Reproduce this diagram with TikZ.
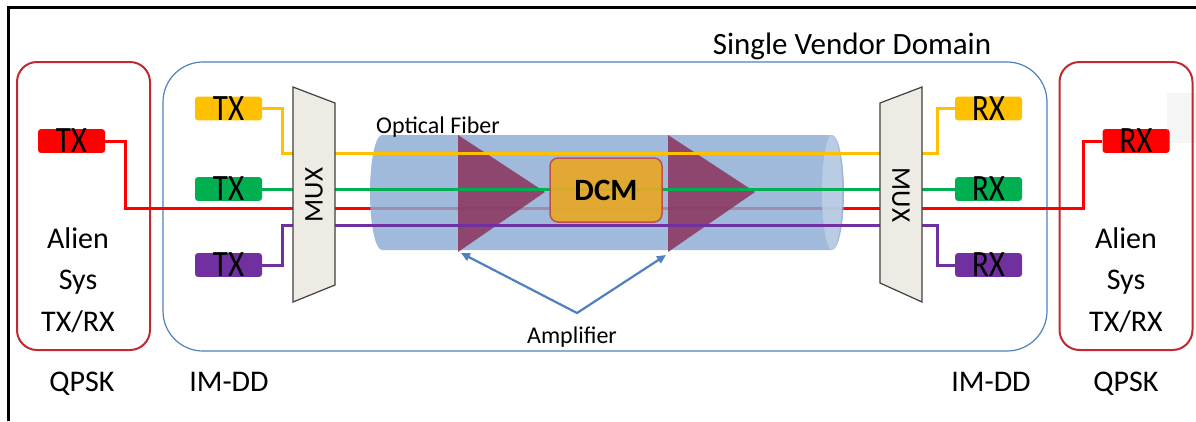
\documentclass[tikz,border=0pt]{standalone}
\usepackage{fontspec}
\setmainfont{Carlito}
\usetikzlibrary{arrows.meta}
\definecolor{chYellow}{RGB}{255,192,0}
\definecolor{chGreen}{RGB}{0,176,80}
\definecolor{chRed}{RGB}{255,0,0}
\definecolor{chPurple}{RGB}{112,48,160}
\definecolor{domBlue}{RGB}{79,129,189}
\definecolor{alienRed}{RGB}{192,40,50}
\definecolor{fiberBlue}{RGB}{140,172,212}
\definecolor{fiberCap}{RGB}{190,208,230}
\definecolor{ampCol}{RGB}{140,55,95}
\definecolor{dcmFill}{RGB}{230,168,40}
\definecolor{dcmEdge}{RGB}{192,80,77}
\definecolor{muxFill}{RGB}{237,235,227}
\definecolor{muxEdge}{RGB}{64,64,64}
\newcommand{\portlabel}[1]{\scalebox{1}[1.2]{#1}}
\begin{document}
\begin{tikzpicture}[x=1pt,y=-1pt,
  big/.style={font=\fontsize{30}{36}\selectfont},
  mid/.style={font=\fontsize{24}{28}\selectfont},
  port/.style={rounded corners=3pt, minimum width=67pt, minimum height=23pt,
    inner sep=0pt, font=\fontsize{31}{33}\selectfont},
  chan/.style={line width=3pt},
  alien/.style={draw=alienRed, line width=2pt, rounded corners=20pt,
    minimum width=133pt, minimum height=288pt},
  mux/.style={fill=muxFill, draw=muxEdge, line width=1.2pt},
  muxtext/.style={font=\fontsize{27}{28}\selectfont},
  amparrow/.style={draw=domBlue, line width=2.2pt,
    {Triangle[length=9pt,width=8pt]}-{Triangle[length=9pt,width=8pt]}},
]
\useasboundingbox (0,0) rectangle (1196,421);
\fill[white] (0,0) rectangle (1196,421);

% outer frame (top and left edges)
\draw[line width=3pt] (8,421) -- (8,7) -- (1196,7);
\fill[gray!8] (1167,93) rectangle (1196,143);

% domains
\node[draw=domBlue, line width=1.2pt, rounded corners=40pt,
  minimum width=884pt, minimum height=289pt] (domain) at (605,206.5) {};
\node[alien] (alienL) at (83.5,206) {};
\node[alien] (alienR) at (1126,206) {};

% ports
\node[port, fill=chRed] (txR) at (71.5,141) {\portlabel{TX}};
\node[port, fill=chRed] (rxR) at (1136,141) {\portlabel{RX}};
\node[port, fill=chYellow] (txY) at (228.5,108.5) {\portlabel{TX}};
\node[port, fill=chGreen]  (txG) at (228.5,189) {\portlabel{TX}};
\node[port, fill=chPurple] (txP) at (228.5,265) {\portlabel{TX}};
\node[port, fill=chYellow] (rxY) at (988.5,108.5) {\portlabel{RX}};
\node[port, fill=chGreen]  (rxG) at (988.5,189) {\portlabel{RX}};
\node[port, fill=chPurple] (rxP) at (988.5,265) {\portlabel{RX}};

% alien wavelength, runs beneath the fiber
\draw[chan, chRed] (txR.east) -| (125,208) -- (1083,208) |- (rxR.west);

% optical fiber
\fill[fiberBlue, opacity=0.82] (382,135)
  arc[start angle=270, end angle=90, x radius=12, y radius=57.5]
  -- (832,250)
  arc[start angle=90, end angle=-90, x radius=12, y radius=57.5] -- cycle;
\fill[fiberCap, opacity=0.85] (832,192.5) ellipse [x radius=10, y radius=57.5];

% amplifiers
\fill[ampCol, opacity=0.88] (458,135) -- (545,192) -- (458,252) -- cycle;
\fill[ampCol, opacity=0.88] (668,135) -- (755,192) -- (668,252) -- cycle;

% native channels
\draw[chan, chYellow] (txY.east) -| (282,153) -- (937,153) |- (rxY.west);
\draw[chan, chGreen]  (txG.east) -- (rxG.west);
\draw[chan, chPurple] (txP.east) -| (282,225) -- (937,225) |- (rxP.west);

% dispersion compensation module
\node[draw=dcmEdge, line width=1.5pt, fill=dcmFill, fill opacity=0.93,
  text opacity=1, rounded corners=8pt, minimum width=112pt,
  minimum height=64pt, font=\fontsize{31}{32}\selectfont\bfseries]
  (dcm) at (606,190) {DCM};

% multiplexers
\draw[mux] (293,87) -- (335,103) -- (335,285) -- (293,302) -- cycle;
\draw[mux] (880,103) -- (922,87) -- (922,302) -- (880,283) -- cycle;
\node[muxtext, rotate=90] (muxL) at (314,195) {MUX};
\node[muxtext, rotate=-90] (muxR) at (901,195) {MUX};

% amplifier callout
\coordinate (ampA) at (461,253);
\coordinate (ampB) at (666,255);
\coordinate (ampHub) at (577,313);
\draw[amparrow] (ampA) -- (ampHub) -- (ampB);

% labels
\node[big, font=\fontsize{31}{36}\selectfont, anchor=base] (vendor) at (852,54) {Single Vendor Domain};
\node[mid, anchor=base] (fiberlbl) at (438,133) {Optical Fiber};
\node[mid, anchor=base] (amplbl) at (572,343) {Amplifier};
\node[big, align=center, font=\fontsize{30}{41.5}\selectfont] (alienLtxt) at (78,280) {Alien\\Sys\\TX/RX};
\node[big, align=center, font=\fontsize{30}{41.5}\selectfont] (alienRtxt) at (1126,280) {Alien\\Sys\\TX/RX};
\node[big, anchor=base] (qpskL) at (82,391) {QPSK};
\node[big, anchor=base] (imddL) at (229,391) {IM-DD};
\node[big, anchor=base] (imddR) at (991,391) {IM-DD};
\node[big, anchor=base] (qpskR) at (1126,391) {QPSK};
\end{tikzpicture}
\end{document}
